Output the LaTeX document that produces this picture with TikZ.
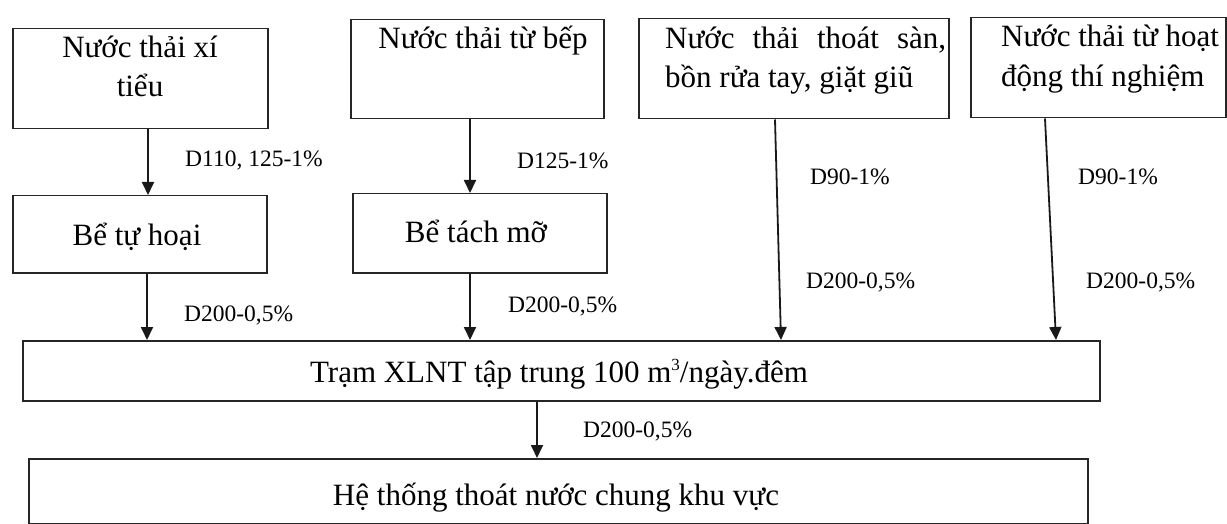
\documentclass[tikz,border=0pt]{standalone}
\usepackage{fontspec}
\setmainfont{Liberation Serif}
\usetikzlibrary{arrows.meta}
\begin{document}
\begin{tikzpicture}[x=1pt,y=-1pt,
  boxnode/.style={draw=black!85, line width=1.5pt, inner sep=0pt, anchor=north west},
  maintext/.style={inner sep=0pt, anchor=base, font=\fontsize{31}{40}\selectfont},
  lefttext/.style={maintext, anchor=base west},
  pipelabel/.style={inner sep=0pt, anchor=base west, font=\fontsize{23.5}{28}\selectfont},
  arr/.style={line width=1.8pt, draw=black!90, -{Triangle[length=13pt,width=12pt]}}]
\useasboundingbox (0,0) rectangle (1227,524);
% boxes
\node[boxnode, minimum width=255pt, minimum height=100pt] (b1) at (12,28) {};
\node[boxnode, minimum width=253pt, minimum height=99pt] (b2) at (350,19) {};
\node[boxnode, minimum width=310pt, minimum height=100pt] (b3) at (638,18) {};
\node[boxnode, minimum width=255pt, minimum height=100pt] (b4) at (970,17) {};
\node[boxnode, minimum width=254pt, minimum height=77pt] (b5) at (12,195) {};
\node[boxnode, minimum width=254pt, minimum height=79pt] (b6) at (352,193) {};
\node[boxnode, minimum width=1077pt, minimum height=60pt] (b7) at (22,340) {};
\node[boxnode, minimum width=1059pt, minimum height=65pt] (b8) at (28,458) {};
% box texts
\node[maintext] (t1a) at (140,58) {Nước thải xí};
\node[maintext] (t1b) at (140,97) {tiểu};
\node[maintext] (t2) at (483,49) {Nước thải từ bếp};
\node[lefttext] (t3a) at (665,49) {\makebox[281pt][s]{Nước thải thoát sàn,}};
\node[lefttext] (t3b) at (665,88) {bồn rửa tay, giặt giũ};
\node[lefttext] (t4a) at (1001,47) {Nước thải từ hoạt};
\node[lefttext] (t4b) at (1001,87) {động thí nghiệm};
\node[maintext] (t5) at (137,245) {Bể tự hoại};
\node[maintext] (t6) at (476,242) {Bể tách mỡ};
\node[maintext] (t7) at (559,382) {Trạm XLNT tập trung 100 m\raisebox{12pt}{\fontsize{17}{17}\selectfont 3}/ngày.đêm};
\node[maintext] (t8) at (556,505) {Hệ thống thoát nước chung khu vực};
% pipe labels
\node[pipelabel] (l1) at (185,167) {D110, 125-1\%};
\node[pipelabel] (l2) at (517,168) {D125-1\%};
\node[pipelabel] (l3) at (810,185) {D90-1\%};
\node[pipelabel] (l4) at (806,288) {D200-0,5\%};
\node[pipelabel] (l5) at (1078,185) {D90-1\%};
\node[pipelabel] (l6) at (1086,288) {D200-0,5\%};
\node[pipelabel] (l7) at (184,321) {D200-0,5\%};
\node[pipelabel] (l8) at (508,312) {D200-0,5\%};
\node[pipelabel] (l9) at (583,437) {D200-0,5\%};
% connector x positions
\coordinate (c1) at (148,0);
\coordinate (c2) at (470,0);
\coordinate (c3) at (775,0);
\coordinate (c3e) at (781,0);
\coordinate (c4) at (1045,0);
\coordinate (c4e) at (1056,0);
\coordinate (c5) at (147,0);
\coordinate (c7) at (537,0);
% connectors
\draw[arr] (b1.south -| c1) -- (b5.north -| c1);
\draw[arr] (b2.south -| c2) -- (b6.north -| c2);
\draw[arr] (b5.south -| c5) -- (b7.north -| c5);
\draw[arr] (b6.south -| c2) -- (b7.north -| c2);
\draw[arr] (b3.south -| c3) -- (b7.north -| c3e);
\draw[arr] (b4.south -| c4) -- (b7.north -| c4e);
\draw[arr] (b7.south -| c7) -- (b8.north -| c7);
\end{tikzpicture}
\end{document}
